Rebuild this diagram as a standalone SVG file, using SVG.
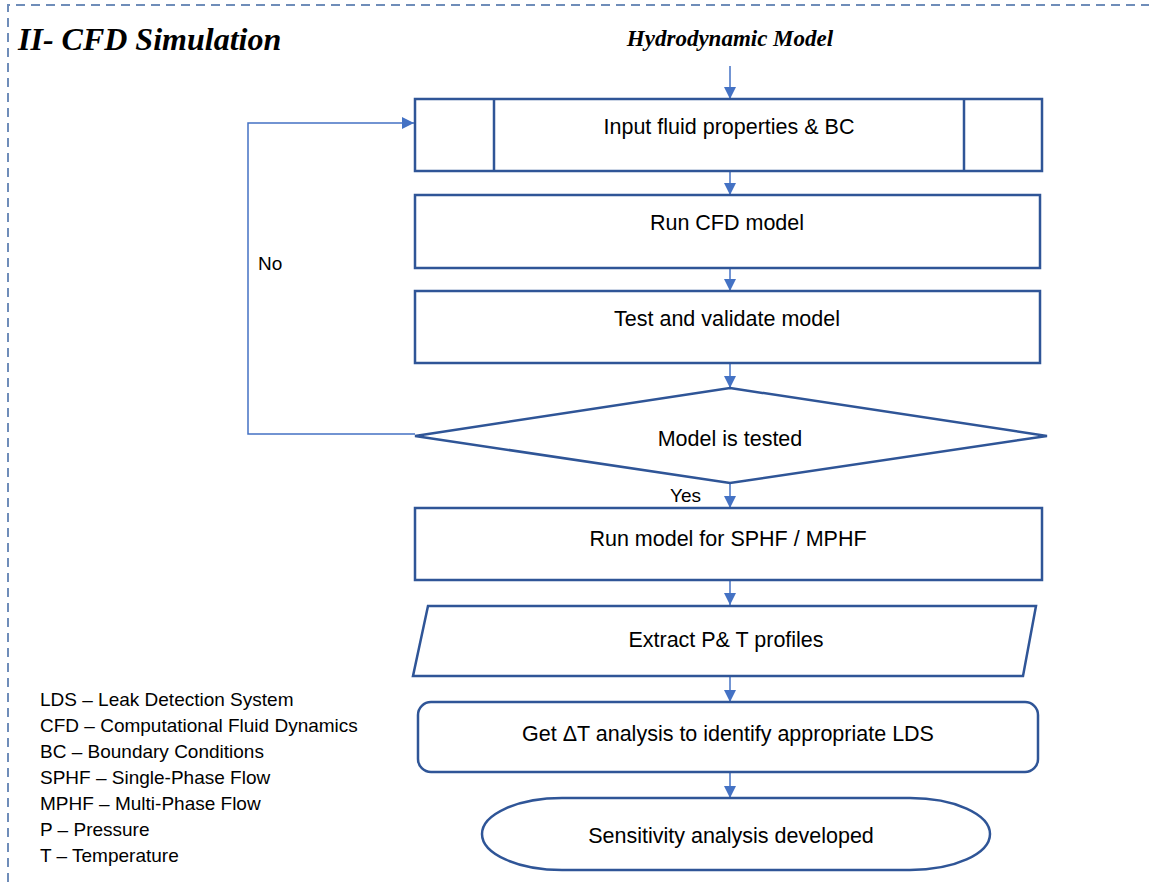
<svg xmlns="http://www.w3.org/2000/svg" width="1149" height="882" viewBox="0 0 1149 882">
<style>
.n{fill:#fff;stroke:#2F5597;stroke-width:2.5}
.c{fill:none;stroke:#4472C4;stroke-width:1.5}
.t{font-family:"Liberation Sans",Arial,sans-serif;font-size:21.5px;fill:#000;text-anchor:middle}
.l{font-family:"Liberation Sans",Arial,sans-serif;font-size:19px;fill:#000}
.h{font-family:"Liberation Serif","Times New Roman",serif;font-weight:bold;font-style:italic;fill:#000}
</style>
<defs>
<marker id="a" viewBox="0 0 12 12" refX="12" refY="6" markerWidth="12" markerHeight="12" markerUnits="userSpaceOnUse" orient="auto">
<path d="M0,0 L12,6 L0,12 z" fill="#4472C4"/>
</marker>
</defs>
<rect width="1149" height="882" fill="#fff"/>
<path d="M8,882 V5 H1149" fill="none" stroke="#6F8DB9" stroke-width="2" stroke-dasharray="9,6"/>
<text class="h" x="18" y="50" font-size="32">II- CFD Simulation</text>
<text class="h" x="730" y="46" font-size="23" text-anchor="middle">Hydrodynamic Model</text>
<g id="connectors">
<line class="c" x1="730" y1="66" x2="730" y2="99" marker-end="url(#a)"/>
<line class="c" x1="730" y1="172" x2="730" y2="195" marker-end="url(#a)"/>
<line class="c" x1="730" y1="269" x2="730" y2="291" marker-end="url(#a)"/>
<line class="c" x1="730" y1="364" x2="730" y2="388" marker-end="url(#a)"/>
<line class="c" x1="730" y1="483" x2="730" y2="508" marker-end="url(#a)"/>
<line class="c" x1="730" y1="581" x2="730" y2="605" marker-end="url(#a)"/>
<line class="c" x1="730" y1="677" x2="730" y2="702" marker-end="url(#a)"/>
<line class="c" x1="730" y1="773" x2="730" y2="798" marker-end="url(#a)"/>
<polyline class="c" points="415,434 248,434 248,123 414,123" marker-end="url(#a)"/>
<text class="l" x="258" y="270">No</text>
<text class="l" x="670" y="502">Yes</text>
</g>
<g id="n1">
<rect class="n" x="415" y="99" width="627" height="72"/>
<line class="n" x1="494" y1="99" x2="494" y2="171"/>
<line class="n" x1="964" y1="99" x2="964" y2="171"/>
<text class="t" x="729" y="134">Input fluid properties &amp; BC</text>
</g>
<g id="n2">
<rect class="n" x="415" y="195" width="625" height="73"/>
<text class="t" x="727" y="230">Run CFD model</text>
</g>
<g id="n3">
<rect class="n" x="415" y="291" width="625" height="72"/>
<text class="t" x="727" y="326">Test and validate model</text>
</g>
<g id="n4">
<polygon class="n" points="730,388 1047,436 730,483 415,436"/>
<text class="t" x="730" y="446">Model is tested</text>
</g>
<g id="n5">
<rect class="n" x="415" y="508" width="627" height="72"/>
<text class="t" x="728" y="546">Run model for SPHF / MPHF</text>
</g>
<g id="n6">
<polygon class="n" points="428,606 1036,606 1023,676 413,676"/>
<text class="t" x="726" y="647">Extract P&amp; T profiles</text>
</g>
<g id="n7">
<rect class="n" x="418" y="702" width="620" height="70" rx="13"/>
<text class="t" x="728" y="741">Get ΔT analysis to identify appropriate LDS</text>
</g>
<g id="n8">
<rect class="n" x="482" y="798" width="508" height="72" rx="80" ry="36"/>
<text class="t" x="731" y="843">Sensitivity analysis developed</text>
</g>
<g id="legend">
<text class="l" x="40" y="706">LDS – Leak Detection System</text>
<text class="l" x="40" y="732">CFD – Computational Fluid Dynamics</text>
<text class="l" x="40" y="758">BC – Boundary Conditions</text>
<text class="l" x="40" y="784">SPHF – Single-Phase Flow</text>
<text class="l" x="40" y="810">MPHF – Multi-Phase Flow</text>
<text class="l" x="40" y="836">P – Pressure</text>
<text class="l" x="40" y="862">T – Temperature</text>
</g>
</svg>
